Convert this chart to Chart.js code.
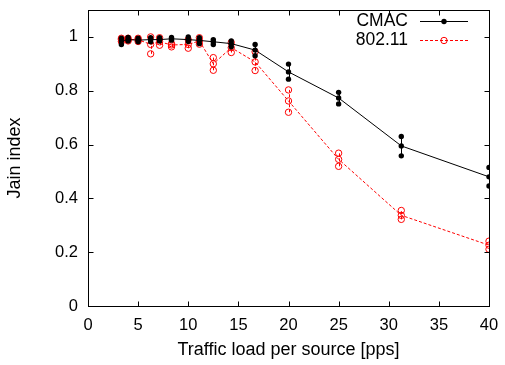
<!DOCTYPE html>
<html>
<head>
<meta charset="utf-8">
<script src="https://cdn.jsdelivr.net/npm/chart.js@4/dist/chart.umd.min.js"></script>
<style>
  html, body { margin: 0; padding: 0; background: #fff; }
  #wrap { width: 505px; height: 365px; }
</style>
</head>
<body>
<div id="wrap"><canvas id="jain"></canvas></div>
<script>
// traffic load per source (pps)
const loads = [3.33, 4, 5, 6.25, 7.14, 8.33, 10, 11.11, 12.5, 14.29, 16.67, 20, 25, 31.25, 40];

// CMAC: mean, lowest and highest run
const cmacMean = [0.985, 0.990, 0.988, 0.990, 0.990, 0.993, 0.990, 0.987, 0.982, 0.975, 0.951, 0.870, 0.773, 0.595, 0.480];
const cmacLow  = [0.972, 0.985, 0.982, 0.982, 0.985, 0.988, 0.983, 0.975, 0.972, 0.963, 0.930, 0.843, 0.751, 0.558, 0.446];
const cmacHigh = [0.995, 0.998, 0.995, 0.997, 0.997, 0.998, 1.000, 0.997, 0.990, 0.985, 0.972, 0.899, 0.794, 0.630, 0.515];

// 802.11: mean, lowest and highest run
const wifiMean = [0.990, 0.990, 0.990, 0.972, 0.982, 0.970, 0.972, 0.985, 0.900, 0.960, 0.907, 0.762, 0.545, 0.337, 0.226];
const wifiLow  = [0.983, 0.985, 0.983, 0.937, 0.969, 0.963, 0.958, 0.973, 0.876, 0.942, 0.875, 0.720, 0.519, 0.322, 0.211];
const wifiHigh = [0.995, 0.995, 0.995, 1.000, 0.997, 0.975, 0.990, 0.997, 0.923, 0.979, 0.945, 0.803, 0.568, 0.355, 0.241];

const xTicks = [0, 5, 10, 15, 20, 25, 30, 35, 40];
const yTicks = [0, 0.2, 0.4, 0.6, 0.8, 1];

const FONT = 'Liberation Sans, Arial, Helvetica, sans-serif';
const RED = '#ff0000';

function pts(ys) {
    return loads.map((x, i) => ({ x: x, y: ys[i] }));
}

// vertical bars between low and high run, plus frame and inward ticks
const errorBarsAndFrame = {
    id: 'errorBarsAndFrame',
    beforeDatasetsDraw(chart) {
        const ctx = chart.ctx;
        const xs = chart.scales.x, ys = chart.scales.y;
        const bars = [
            { low: cmacLow, high: cmacHigh, color: '#000', dash: [] },
            { low: wifiLow, high: wifiHigh, color: RED, dash: [3, 2] }
        ];
        ctx.save();
        ctx.lineWidth = 1;
        bars.forEach(b => {
            ctx.strokeStyle = b.color;
            ctx.setLineDash(b.dash);
            loads.forEach((x, i) => {
                const px = Math.round(xs.getPixelForValue(x)) + 0.5;
                ctx.beginPath();
                ctx.moveTo(px, ys.getPixelForValue(b.low[i]));
                ctx.lineTo(px, ys.getPixelForValue(b.high[i]));
                ctx.stroke();
            });
        });
        ctx.restore();
    },
    afterDraw(chart) {
        const ctx = chart.ctx;
        const a = chart.chartArea;
        const xs = chart.scales.x, ys = chart.scales.y;
        const t = 5;
        ctx.save();
        ctx.strokeStyle = '#000';
        ctx.lineWidth = 1;
        ctx.setLineDash([]);
        const L = Math.round(a.left) + 0.5, R = Math.round(a.right) + 0.5;
        const T = Math.round(a.top) + 0.5, B = Math.round(a.bottom) + 0.5;
        ctx.strokeRect(L, T, R - L, B - T);
        ctx.beginPath();
        xTicks.forEach(v => {
            const px = Math.round(xs.getPixelForValue(v)) + 0.5;
            ctx.moveTo(px, B); ctx.lineTo(px, B - t);
            ctx.moveTo(px, T); ctx.lineTo(px, T + t);
        });
        yTicks.forEach(v => {
            const py = Math.round(ys.getPixelForValue(v)) + 0.5;
            ctx.moveTo(L, py); ctx.lineTo(L + t, py);
            ctx.moveTo(R, py); ctx.lineTo(R - t, py);
        });
        ctx.stroke();

        // key in the top right corner
        const rows = [
            { label: 'CMAC', color: '#000', dash: [], y: 21, open: false },
            { label: '802.11', color: RED, dash: [3, 2], y: 40, open: true }
        ];
        ctx.font = '17.5px ' + FONT;
        ctx.textAlign = 'right';
        ctx.textBaseline = 'middle';
        rows.forEach(r => {
            ctx.fillStyle = '#000';
            ctx.fillText(r.label, 408, r.y);
            ctx.strokeStyle = r.color;
            ctx.setLineDash(r.dash);
            ctx.beginPath();
            ctx.moveTo(420, r.y + 0.5); ctx.lineTo(468, r.y + 0.5);
            ctx.stroke();
            ctx.setLineDash([]);
            ctx.beginPath();
            if (r.open) {
                ctx.arc(444, r.y + 0.5, 3.2, 0, Math.PI * 2);
                ctx.stroke();
            } else {
                ctx.fillStyle = r.color;
                ctx.arc(444, r.y + 0.5, 2.7, 0, Math.PI * 2);
                ctx.fill();
            }
        });
        ctx.restore();
    }
};

new Chart(document.getElementById('jain'), {
    type: 'scatter',
    data: {
        datasets: [
            {
                label: 'CMAC', data: pts(cmacMean), showLine: true,
                borderColor: '#000', borderWidth: 1, backgroundColor: '#000',
                pointRadius: 2.7, pointBorderWidth: 0
            },
            {
                label: 'CMAC low', data: pts(cmacLow), showLine: false,
                backgroundColor: '#000', pointRadius: 2.7, pointBorderWidth: 0
            },
            {
                label: 'CMAC high', data: pts(cmacHigh), showLine: false,
                backgroundColor: '#000', pointRadius: 2.7, pointBorderWidth: 0
            },
            {
                label: '802.11', data: pts(wifiMean), showLine: true,
                borderColor: RED, borderWidth: 1, borderDash: [3, 2],
                backgroundColor: 'rgba(0,0,0,0)', pointBorderColor: RED,
                pointRadius: 3.2, pointBorderWidth: 1
            },
            {
                label: '802.11 low', data: pts(wifiLow), showLine: false,
                backgroundColor: 'rgba(0,0,0,0)', borderColor: RED,
                pointRadius: 3.2, pointBorderWidth: 1
            },
            {
                label: '802.11 high', data: pts(wifiHigh), showLine: false,
                backgroundColor: 'rgba(0,0,0,0)', borderColor: RED,
                pointRadius: 3.2, pointBorderWidth: 1
            }
        ]
    },
    options: {
        responsive: true,
        maintainAspectRatio: false,
        animation: false,
        events: [],
        layout: { padding: { top: 10, right: 16, left: 0, bottom: 0 } },
        plugins: {
            legend: { display: false },
            tooltip: { enabled: false }
        },
        scales: {
            x: {
                type: 'linear', min: 0, max: 40,
                afterBuildTicks: s => { s.ticks = xTicks.map(v => ({ value: v })); },
                afterFit: s => { s.height = 59; s.paddingLeft = 0; s.paddingRight = 0; },
                grid: { display: false, drawTicks: false },
                border: { display: false },
                ticks: { color: '#000', font: { family: FONT, size: 16.5 }, padding: 10, maxRotation: 0 },
                title: { display: true, text: 'Traffic load per source [pps]', color: '#000',
                         font: { family: FONT, size: 18 }, padding: { top: 5 } }
            },
            y: {
                type: 'linear', min: 0, max: 1.1,
                afterBuildTicks: s => { s.ticks = yTicks.map(v => ({ value: v })); },
                afterFit: s => { s.width = 88; s.paddingTop = 0; s.paddingBottom = 0; },
                grid: { display: false, drawTicks: false },
                border: { display: false },
                ticks: { color: '#000', font: { family: FONT, size: 16.5 }, padding: 10,
                         callback: v => String(v) },
                title: { display: true, text: 'Jain index', color: '#000',
                         font: { family: FONT, size: 18 }, padding: { top: 4, bottom: 6 } }
            }
        }
    },
    plugins: [errorBarsAndFrame]
});
</script>
</body>
</html>
